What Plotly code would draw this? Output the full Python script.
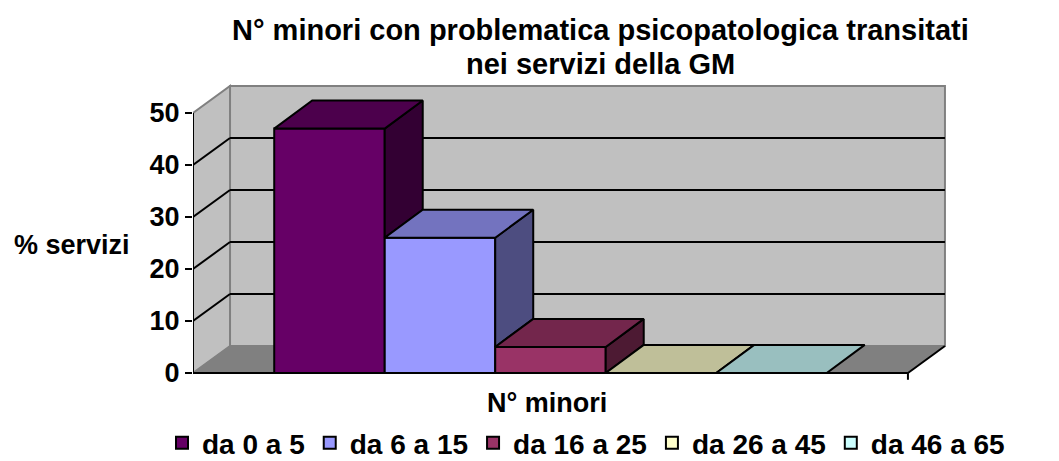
import plotly.graph_objects as go

# ---- data ----
categories = ["da 0 a 5", "da 6 a 15", "da 16 a 25", "da 26 a 45", "da 46 a 65"]
values = [47, 26, 5, 0, 0]
front_colors = ["#660066", "#9999ff", "#993366", "#ffffcc", "#ccffff"]
top_colors = ["#4c004c", "#7373bf", "#73264c", "#bfbf99", "#99bfbf"]
side_colors = ["#330033", "#4d4d80", "#4d1a33", "#808066", "#668080"]
y_ticks = [0, 10, 20, 30, 40, 50]

title_lines = ["N° minori con problematica psicopatologica transitati", "nei servizi della GM"]
x_title = "N° minori"
y_title = "% servizi"

# ---- geometry (chart units) ----
FONT = "Liberation Sans, Arial, sans-serif"
YMAX = 50
GAP = 0.735              # floor gap each side of the bar group
XL = -0.5 - GAP
XR = len(values) - 0.5 + GAP
WDX, WDY = 0.335, 5.2     # wall depth offset
BDX, BDY = 0.344, 5.4     # bar depth offset

W, H = 1059, 461
ML, MR, MT, MB = 193, 99, 80, 81
PW, PH = W - ML - MR, H - MT - MB
px_x = PW / 110.5
px_y = PH / 5.2
x_range = [XL, XL + px_x]
y_bottom = -(380 - 373) / 5.2
y_range = [y_bottom, y_bottom + px_y]

fig = go.Figure()

def poly(pts):
    return "M " + " L ".join(f"{x},{y}" for x, y in pts) + " Z"

# walls and floor
fig.add_shape(type="path", xref="x", yref="y", layer="below",
              path=poly([(XL + WDX, WDY), (XR + WDX, WDY), (XR + WDX, YMAX + WDY), (XL + WDX, YMAX + WDY)]),
              fillcolor="#c0c0c0", line=dict(color="#808080", width=2))
fig.add_shape(type="path", xref="x", yref="y", layer="below",
              path=poly([(XL, 0), (XL, YMAX), (XL + WDX, YMAX + WDY), (XL + WDX, WDY)]),
              fillcolor="#c0c0c0", line=dict(color="#808080", width=2))
fig.add_shape(type="path", xref="x", yref="y", layer="below",
              path=poly([(XL, 0), (XR, 0), (XR + WDX, WDY), (XL + WDX, WDY)]),
              fillcolor="#808080", line=dict(color="#808080", width=1))
for v in y_ticks[1:-1]:
    fig.add_shape(type="line", xref="x", yref="y", layer="below",
                  x0=XL + WDX, y0=v + WDY, x1=XR + WDX, y1=v + WDY,
                  line=dict(color="black", width=2))
    fig.add_shape(type="line", xref="x", yref="y", layer="below",
                  x0=XL, y0=v, x1=XL + WDX, y1=v + WDY,
                  line=dict(color="black", width=2))
# front axes
fig.add_shape(type="line", xref="x", yref="y", layer="below",
              x0=XL, y0=0, x1=XL, y1=YMAX, line=dict(color="black", width=2))
fig.add_shape(type="line", xref="x", yref="y", layer="below",
              x0=XL, y0=0, x1=XR, y1=0, line=dict(color="black", width=2))
fig.add_shape(type="line", xref="x", yref="y", layer="below",
              x0=XR, y0=0, x1=XR + WDX, y1=WDY, line=dict(color="black", width=2))
fig.add_shape(type="line", xref="x", yref="y", layer="below",
              x0=XR, y0=0, x1=XR, y1=-1.3, line=dict(color="black", width=2))

# front faces (bars)
for i, (cat, v) in enumerate(zip(categories, values)):
    fig.add_trace(go.Bar(x=[i], y=[v], width=1, name=cat,
                         marker=dict(color=front_colors[i], line=dict(color="black", width=2)),
                         hoverinfo="skip"))

# sides and tops
for i, v in enumerate(values):
    nxt = values[i + 1] if i + 1 < len(values) else 0
    base = max(nxt, 0)
    R = i + 0.5
    if v > base:
        pts = [(R, base), (R, v), (R + BDX, v + BDY), (R + BDX, base + BDY), (R, base)]
        fig.add_trace(go.Scatter(x=[p[0] for p in pts], y=[p[1] for p in pts], mode="lines",
                                 fill="toself", fillcolor=side_colors[i],
                                 line=dict(color="black", width=2), showlegend=False,
                                 hoverinfo="skip", cliponaxis=False))
for i, v in enumerate(values):
    L, R = i - 0.5, i + 0.5
    pts = [(L, v), (R, v), (R + BDX, v + BDY), (L + BDX, v + BDY), (L, v)]
    fig.add_trace(go.Scatter(x=[p[0] for p in pts], y=[p[1] for p in pts], mode="lines",
                             fill="toself", fillcolor=top_colors[i],
                             line=dict(color="black", width=2), showlegend=False,
                             hoverinfo="skip", cliponaxis=False))

def px_paper_x(px):
    return (px - ML) / PW

def px_paper_y(py):
    return (H - MB - py) / PH

bold = lambda s: dict(family=FONT, size=s, color="black", weight="bold")

for line, ypx in zip(title_lines, [30, 64]):
    fig.add_annotation(text=line, xref="paper", yref="paper",
                       x=px_paper_x(600), y=px_paper_y(ypx),
                       xanchor="center", yanchor="middle", showarrow=False, font=bold(29))
fig.add_annotation(text=y_title, xref="paper", yref="paper",
                   x=px_paper_x(72), y=px_paper_y(245),
                   xanchor="center", yanchor="middle", showarrow=False, font=bold(27))
fig.add_annotation(text=x_title, xref="paper", yref="paper",
                   x=px_paper_x(547), y=px_paper_y(403),
                   xanchor="center", yanchor="middle", showarrow=False, font=bold(27))

fig.update_layout(
    width=W, height=H,
    margin=dict(l=ML, r=MR, t=MT, b=MB, autoexpand=False),
    paper_bgcolor="white", plot_bgcolor="white",
    barmode="overlay",
    showlegend=True,
    legend=dict(orientation="h", xref="paper", yref="paper",
                x=px_paper_x(162), y=px_paper_y(443), xanchor="left", yanchor="middle",
                font=bold(28), itemwidth=30, tracegroupgap=0, bgcolor="rgba(0,0,0,0)"),
    xaxis=dict(range=x_range, showgrid=False, zeroline=False, showline=False,
               showticklabels=False, ticks="", fixedrange=True, automargin=False),
    yaxis=dict(range=y_range, showgrid=False, zeroline=False, showline=False,
               tickmode="array", tickvals=y_ticks, ticks="outside", ticklen=7, tickwidth=2,
               tickcolor="black", tickfont=bold(27), fixedrange=True, automargin=False),
)

fig.write_html("out.html", config={"displayModeBar": False},
               post_script="document.body.style.margin='0';document.body.style.overflow='hidden';")
